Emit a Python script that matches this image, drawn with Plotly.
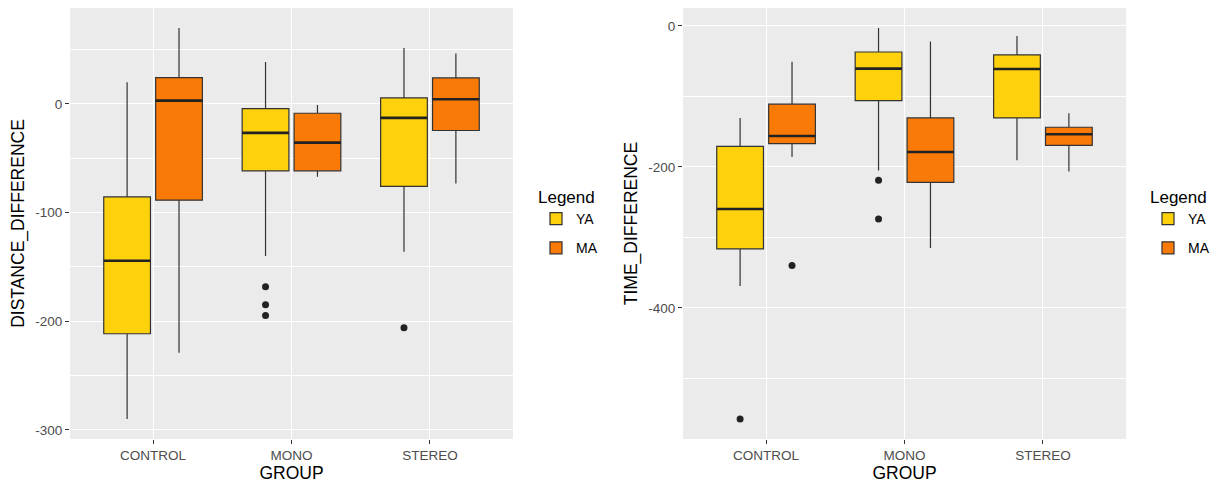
import plotly.graph_objects as go

groups = ["CONTROL", "MONO", "STEREO"]
series = ["YA", "MA"]
colors = {"YA": "#FDD10B", "MA": "#FA7A07"}

# DISTANCE_DIFFERENCE box statistics per group
dist_stats = {
    "YA": dict(lowerfence=[-290, -140, -136], q1=[-211.6, -61.6, -76],
               median=[-144.4, -26.7, -12.9], q3=[-85.6, -4.3, 5.5],
               upperfence=[20, 38.6, 51.5]),
    "MA": dict(lowerfence=[-229, -67, -73.3], q1=[-88.6, -61.6, -24.5],
               median=[3, -35.6, 4.3], q3=[24.2, -8.6, 23.9],
               upperfence=[70, -1, 46.3]),
}
dist_outliers = {
    "YA": [[], [-168.3, -185, -194.7], [-206]],
    "MA": [[], [], []],
}

# TIME_DIFFERENCE box statistics per group
time_stats = {
    "YA": dict(lowerfence=[-368.8, -205, -190.5], q1=[-316.3, -106, -130.5],
               median=[-259.6, -60.5, -61], q3=[-170.7, -36.9, -41.1],
               upperfence=[-130.5, -3, -14.2]),
    "MA": dict(lowerfence=[-185.8, -315, -206.6], q1=[-167, -222, -169.3],
               median=[-156, -178.7, -153.6], q3=[-111, -130.5, -143.7],
               upperfence=[-50.6, -22.2, -123.9]),
}
time_outliers = {
    "YA": [[-557.7], [-219, -273.8], []],
    "MA": [[-340], [], []],
}

FONT = "Liberation Sans, Arial, Helvetica, sans-serif"
EDGE = "#333333"

fig = go.Figure()


def add_panel(stats, outliers, xa, ya, legend):
    for s in series:
        st = stats[s]
        # groups without outliers get the median as an (inside-fence, hidden) sample
        samples = [pts if pts else [m] for pts, m in zip(outliers[s], st["median"])]
        fig.add_trace(go.Box(
            name=s, x=groups, y=samples, **st,
            xaxis=xa, yaxis=ya, legend=legend, legendgroup=s,
            offsetgroup=s, alignmentgroup="a",
            fillcolor=colors[s], line=dict(color=EDGE, width=1.2),
            whiskerwidth=0, boxpoints="outliers", pointpos=0, jitter=0,
            marker=dict(color="#222222", size=7, line=dict(width=0)),
            hoverinfo="skip",
        ))
    for s in series:
        med = stats[s]["median"]
        fig.add_trace(go.Box(
            name=s, x=groups, q1=med, median=med, q3=med,
            lowerfence=med, upperfence=med,
            xaxis=xa, yaxis=ya, showlegend=False, legend=legend,
            offsetgroup=s, alignmentgroup="a",
            fillcolor="rgba(0,0,0,0)", line=dict(color="#222222", width=2.6),
            whiskerwidth=0, boxpoints=False, hoverinfo="skip",
        ))


add_panel(dist_stats, dist_outliers, "x", "y", "legend")
add_panel(time_stats, time_outliers, "x2", "y2", "legend2")

W, H = 1218, 485
ydom = [1 - 439 / H, 1 - 8 / H]

xcommon = dict(
    type="category", range=[-0.6, 2.6], showgrid=True, gridcolor="white",
    gridwidth=1.2, ticks="outside", ticklen=4, tickcolor=EDGE, tickwidth=1.1,
    tickfont=dict(family=FONT, size=13.5, color="#4D4D4D"),
    title=dict(text="GROUP", font=dict(family=FONT, size=17.5, color="black"), standoff=2),
    zeroline=False, showline=False, fixedrange=True,
)
ycommon = dict(
    showgrid=True, gridcolor="white", gridwidth=1.2, zeroline=False,
    ticks="outside", ticklen=4, tickcolor=EDGE, tickwidth=1.1,
    tickfont=dict(family=FONT, size=13.5, color="#4D4D4D"), showline=False,
)

legend_common = dict(
    xanchor="left", yanchor="top",
    title=dict(text="Legend", font=dict(family=FONT, size=17, color="black")),
    font=dict(family=FONT, size=14, color="black"),
    bgcolor="white", tracegroupgap=8, traceorder="grouped", itemwidth=30,
)

fig.update_layout(
    width=W, height=H, margin=dict(l=0, r=0, t=0, b=0),
    paper_bgcolor="white", plot_bgcolor="#EBEBEB",
    boxmode="group", boxgap=0.25, boxgroupgap=0.1,
    font=dict(family=FONT),
    xaxis=dict(domain=[70 / W, 513 / W], anchor="y", **xcommon),
    xaxis2=dict(domain=[683 / W, 1126 / W], anchor="y2", **xcommon),
    yaxis=dict(domain=ydom, anchor="x", range=[-308.5, 88.3], tickmode="array",
               tickvals=[-300, -200, -100, 0], ticktext=["-300", "-200", "-100", "0"],
               minor=dict(tickvals=[-250, -150, -50, 50], showgrid=True,
                          gridcolor="white", gridwidth=0.6, ticks=""),
               title=dict(text="DISTANCE_DIFFERENCE",
                          font=dict(family=FONT, size=17.5, color="black"), standoff=6),
               **ycommon),
    yaxis2=dict(domain=ydom, anchor="x2", range=[-586, 25.5], tickmode="array",
                tickvals=[-400, -200, 0], ticktext=["-400", "-200", "0"],
                minor=dict(tickvals=[-500, -300, -100], showgrid=True,
                           gridcolor="white", gridwidth=0.6, ticks=""),
                title=dict(text="TIME_DIFFERENCE",
                           font=dict(family=FONT, size=17.5, color="black"), standoff=6),
                **ycommon),
    legend=dict(x=536 / W, y=1 - 181 / H, **legend_common),
    legend2=dict(x=1148 / W, y=1 - 181 / H, **legend_common),
)

fig.write_html("out.html")
